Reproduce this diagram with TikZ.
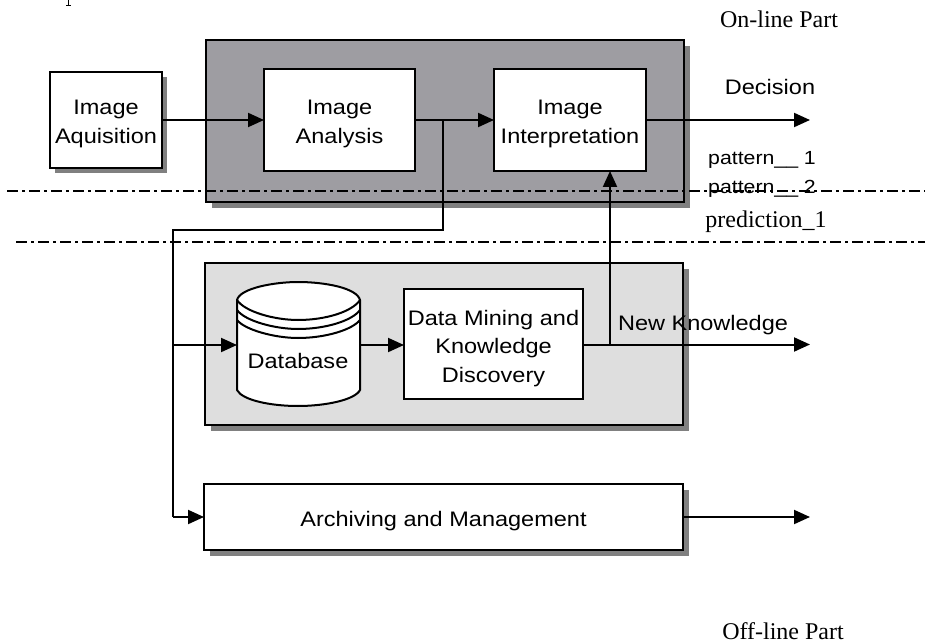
\documentclass[tikz,border=0pt]{standalone}
\usepackage{fontspec}
\setmainfont{Liberation Serif}
\newfontfamily\labfont[FakeStretch=1.12]{Liberation Sans}
\usetikzlibrary{arrows.meta,shadows}
\definecolor{darkpanel}{HTML}{9E9DA2}
\definecolor{lightpanel}{HTML}{DEDEDE}
\definecolor{shadowgrey}{HTML}{808080}
\newcommand{\boxtext}[2][7pt]{\vbox{\vskip #1\hbox{\begin{tabular}{@{}c@{}}#2\end{tabular}}}}
\tikzset{
  x=1pt,y=-1pt,
  boxshadow/.style={general shadow={shadow xshift=#1,shadow yshift=-#1,fill=shadowgrey,opacity=1}},
  panel/.style={draw=black,line width=2.2pt,inner sep=0pt,outer sep=0pt,boxshadow=6pt},
  whitebox/.style={draw=black,line width=2.2pt,inner sep=0pt,outer sep=0pt,fill=white,font=\labfont\fontsize{21}{28.5}\selectfont},
  link/.style={draw=black,line width=2pt},
  arrowlink/.style={link,-{Triangle[length=16pt,width=14pt]}},
  boundary/.style={draw=black,line width=1.1pt,dash pattern=on 11pt off 4pt on 3pt off 4pt},
  sanslabel/.style={inner sep=0pt,font=\labfont\fontsize{21}{24}\selectfont},
  patternlabel/.style={inner sep=0pt,font=\labfont\fontsize{19}{24}\selectfont},
  seriflabel/.style={inner sep=0pt,font=\fontsize{24}{27}\selectfont},
}
\begin{document}
\begin{tikzpicture}
\useasboundingbox (0,0) rectangle (925,644);
% panels
\node[panel,fill=darkpanel,minimum width=478pt,minimum height=162pt] (online) at (445,121) {};
\node[panel,fill=lightpanel,minimum width=478pt,minimum height=162pt] (offline) at (444,344) {};
% boxes
\node[whitebox,boxshadow=5pt,minimum width=112pt,minimum height=96pt] (acq) at (106,120) {\boxtext{Image\\Aquisition}};
\node[whitebox,minimum width=151pt,minimum height=102pt] (ana) at (339.5,120) {\boxtext{Image\\Analysis}};
\node[whitebox,minimum width=152pt,minimum height=102pt] (int) at (570,120) {\boxtext{Image\\Interpretation}};
\node[whitebox,minimum width=179pt,minimum height=110pt] (dm) at (493.5,344) {\boxtext[8pt]{Data Mining and\\Knowledge\\Discovery}};
\node[whitebox,boxshadow=6pt,minimum width=479pt,minimum height=66pt] (arc) at (443.5,517) {\boxtext[8pt]{Archiving and Management}};
% database drum
\draw[link,fill=white] (237,300) .. controls (240,288) and (275,282) .. (298,282) .. controls (325,282) and (357,288) .. (360,300)
  -- (360,390) .. controls (355,400) and (325,406) .. (298,406) .. controls (270,406) and (242,400) .. (237,390) -- cycle;
\draw[link] (237,300) .. controls (245,312) and (275,320) .. (298,320) .. controls (325,320) and (352,312) .. (360,300);
\draw[link] (237,310) .. controls (245,321) and (275,329) .. (298,329) .. controls (325,329) and (352,321) .. (360,310);
\draw[link] (237,320) .. controls (245,330) and (275,338) .. (298,338) .. controls (325,338) and (352,330) .. (360,320);
\node[minimum width=123pt,minimum height=124pt,inner sep=0pt,outer sep=0pt] (db) at (298.5,345) {};
\node[sanslabel] (dbtext) at (298,361) {Database};
% free ends and branch points
\coordinate (split) at (443,120);
\coordinate (elbowA) at (443,230);
\coordinate (elbowB) at (173,230);
\coordinate (tapDB) at (173,345);
\coordinate (elbowC) at (173,517);
\coordinate (outDecision) at (810,120);
\coordinate (tapKnow) at (610,344.5);
\coordinate (outKnow) at (810,344.5);
\coordinate (outArc) at (810,517);
% connectors
\draw[arrowlink] (acq.east) -- (ana.west);
\draw[arrowlink] (ana.east) -- (int.west);
\draw[arrowlink] (int.east) -- (outDecision);
\draw[link] (split) -- (elbowA) -- (elbowB) -- (elbowC);
\draw[arrowlink] (elbowC) -- (arc.west);
\draw[arrowlink] (tapDB) -- (db.west);
\draw[arrowlink] (db.east) -- (dm.west |- db.east);
\draw[arrowlink] (dm.east |- outKnow) -- (outKnow);
\draw[arrowlink] (tapKnow) -- (tapKnow |- int.south);
\draw[arrowlink] (arc.east) -- (outArc);
% boundaries
\coordinate (bA1) at (7,191); \coordinate (bA2) at (925,191);
\coordinate (bB1) at (16,242); \coordinate (bB2) at (925,242);
\draw[boundary] (bA1) -- (bA2);
\draw[boundary] (bB1) -- (bB2);
% labels
\node[sanslabel] (decision) at (770,87) {Decision};
\node[patternlabel] (pat1) at (762,160) {pattern\_\_ 1};
\node[patternlabel] (pat2) at (762,189) {pattern\_\_ 2};
\node[sanslabel] (newk) at (703,325) {New Knowledge};
\node[seriflabel] (online-t) at (779,19) {On-line Part};
\node[seriflabel] (pred) at (766,222) {prediction\_1};
\node[seriflabel] (offline-t) at (783,631) {Off-line Part};
% clipped glyph remnant at the top edge
\fill[black] (67.5,0) rectangle (69,5);
\fill[black] (65.5,5) rectangle (71,6.3);
\end{tikzpicture}
\end{document}
